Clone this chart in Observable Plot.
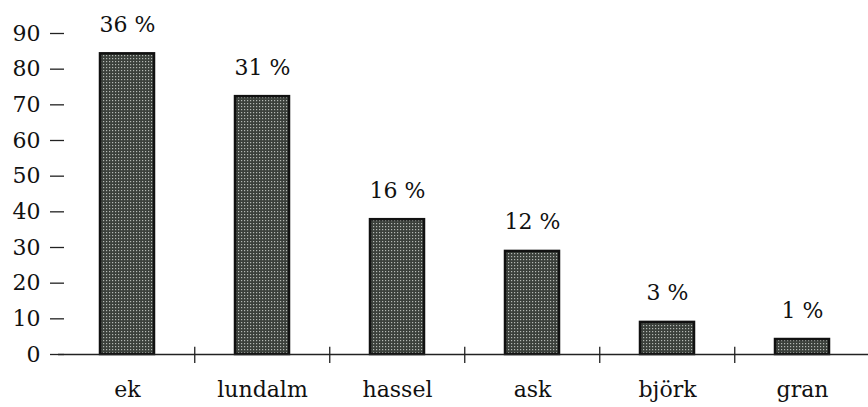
<!DOCTYPE html>
<html>
<head>
<meta charset="utf-8">
<script src="https://cdn.jsdelivr.net/npm/d3@7"></script>
<script src="https://cdn.jsdelivr.net/npm/@observablehq/plot@0.6"></script>
<style>
  html, body { margin: 0; padding: 0; background: #fff; overflow: hidden; }
  #chart svg { overflow: visible; display: block; }
</style>
</head>
<body>
<div id="chart"></div>
<script>
const categories = ["ek", "lundalm", "hassel", "ask", "björk", "gran"];
const values = [84.3, 72.3, 37.8, 28.9, 9.0, 4.2];
const percentLabels = ["36 %", "31 %", "16 %", "12 %", "3 %", "1 %"];
const yTicks = [0, 10, 20, 30, 40, 50, 60, 70, 80, 90];

const data = categories.map((c, i) => ({cat: c, value: values[i], label: percentLabels[i]}));

const W = 868, H = 407;
const mL = 58, mR = -3;
const step = (W - mL - mR) / categories.length;
const serif = "DejaVu Serif";
const fs = 22;

const chart = Plot.plot({
  width: W,
  height: H,
  marginLeft: mL,
  marginRight: mR,
  marginTop: 33,
  marginBottom: 53,
  style: {"font-size": fs + "px", "font-family": serif, "color": "#111", "background": "#fff"},
  x: {domain: categories, paddingInner: 0.6, paddingOuter: 0.3, label: null},
  y: {domain: [0, 90], label: null},
  marks: [
    Plot.barY(data, {x: "cat", y: "value", fill: "url(#dotpat)", stroke: "#111", strokeWidth: 2.5}),
    Plot.text(data, {x: "cat", y: "value", text: "label", lineAnchor: "bottom", dy: -22, fill: "#111", fontSize: fs, fontFamily: serif}),
    Plot.ruleY([0], {stroke: "#222", strokeWidth: 1.3}),
    Plot.ruleX(categories.slice(1), {x: d => d, dx: -step / 2, y1: -2.5, y2: 2, stroke: "#222", strokeWidth: 1.3}),
    Plot.axisY({ticks: yTicks, tickSize: 8, tickPadding: 10, line: true, stroke: "#222", strokeWidth: 1.3, fontSize: fs, fontFamily: serif, tickFormat: d => String(d)}),
    Plot.axisY({ticks: yTicks, tickSize: -6, text: null, stroke: "#222", strokeWidth: 1.3}),
    Plot.axisX({tickSize: 0, tickPadding: 27, fontSize: fs, fontFamily: serif, label: null})
  ]
});

const ns = "http://www.w3.org/2000/svg";
const defs = document.createElementNS(ns, "defs");
defs.innerHTML = `<pattern id="dotpat" width="3" height="3" patternUnits="userSpaceOnUse">
  <rect width="3" height="3" fill="#3b403b"></rect>
  <rect x="1" y="1" width="1.2" height="1.2" fill="#b4b8b4"></rect>
</pattern>`;
chart.insertBefore(defs, chart.firstChild);

document.getElementById("chart").appendChild(chart);
</script>
</body>
</html>
